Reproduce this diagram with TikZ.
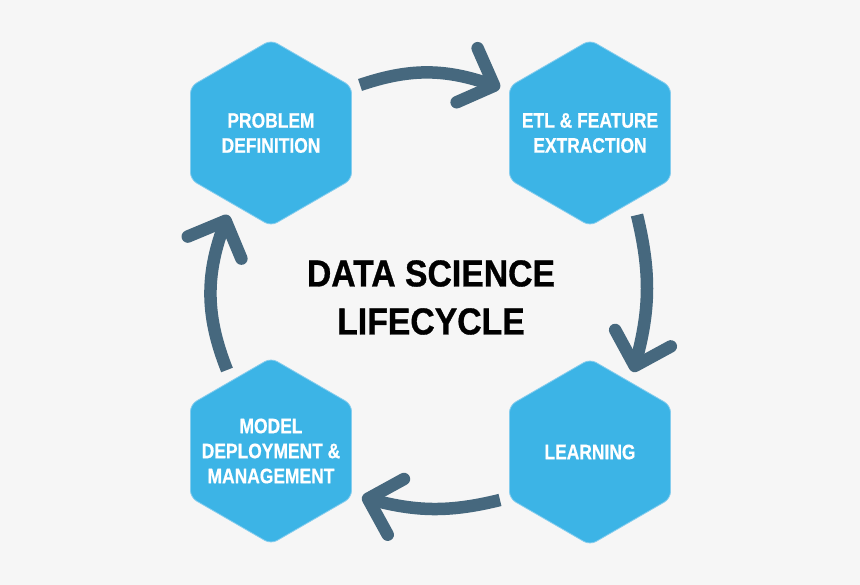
\documentclass[tikz,border=0pt]{standalone}
\usepackage{fontspec}
\usetikzlibrary{shapes.geometric, arrows.meta, bending}
\newfontfamily\labelfont[FakeStretch=0.83, FakeBold=0.6]{Liberation Sans}
\newfontfamily\titlefont[FakeStretch=0.9, FakeBold=0.8]{Liberation Sans}
\definecolor{bgcol}{HTML}{F6F6F6}
\definecolor{hexfill}{HTML}{3CB4E6}
\definecolor{hexline}{HTML}{86CDEE}
\definecolor{arrcol}{HTML}{46687E}

\begin{document}
\begin{tikzpicture}[
  x=1pt, y=1pt,
  hexbox/.style={regular polygon, regular polygon sides=6, shape border rotate=30,
    minimum size=186pt, inner sep=-40pt, rounded corners=7pt, fill=hexfill, draw=hexline,
    line width=0.8pt, text=white, align=center,
    font=\labelfont\bfseries\fontsize{21}{25}\selectfont},
  arrow/.style={arrcol, line width=12.5pt,
    -{Straight Barb[round, length=29pt, width=58pt]}}
]

\fill[bgcol] (0,0) rectangle (860,585);

% the four stages
\node[hexbox] (pd)  at (271,452) {PROBLEM\\DEFINITION};
\node[hexbox] (etl) at (590,452) {ETL \& FEATURE\\EXTRACTION};
\node[hexbox] (lrn) at (590,133) {LEARNING};
\node[hexbox] (mdm) at (271,134) {MODEL\\DEPLOYMENT \&\\MANAGEMENT};

\node[font=\titlefont\bfseries\fontsize{37.5}{48}\selectfont, align=center] (title)
  at (431,287.5) {DATA SCIENCE\\LIFECYCLE};

% arrow ends
\coordinate (pd-out)  at (360,500);
\coordinate (etl-in)  at (500,497);
\coordinate (etl-out) at (637,370);
\coordinate (lrn-in)  at (633,213);
\coordinate (lrn-out) at (500,85);
\coordinate (mdm-in)  at (362,88);
\coordinate (mdm-out) at (227,215);
\coordinate (pd-in)   at (228,370);

\draw[arrow] (pd-out) to[bend left=20] (etl-in);
\draw[arrow] (etl-out) to[bend left=15] (lrn-in);
\draw[arrow] (lrn-out) to[bend left=15] (mdm-in);
\draw[arrow] (mdm-out) to[bend left=22] (pd-in);

\end{tikzpicture}
\end{document}
